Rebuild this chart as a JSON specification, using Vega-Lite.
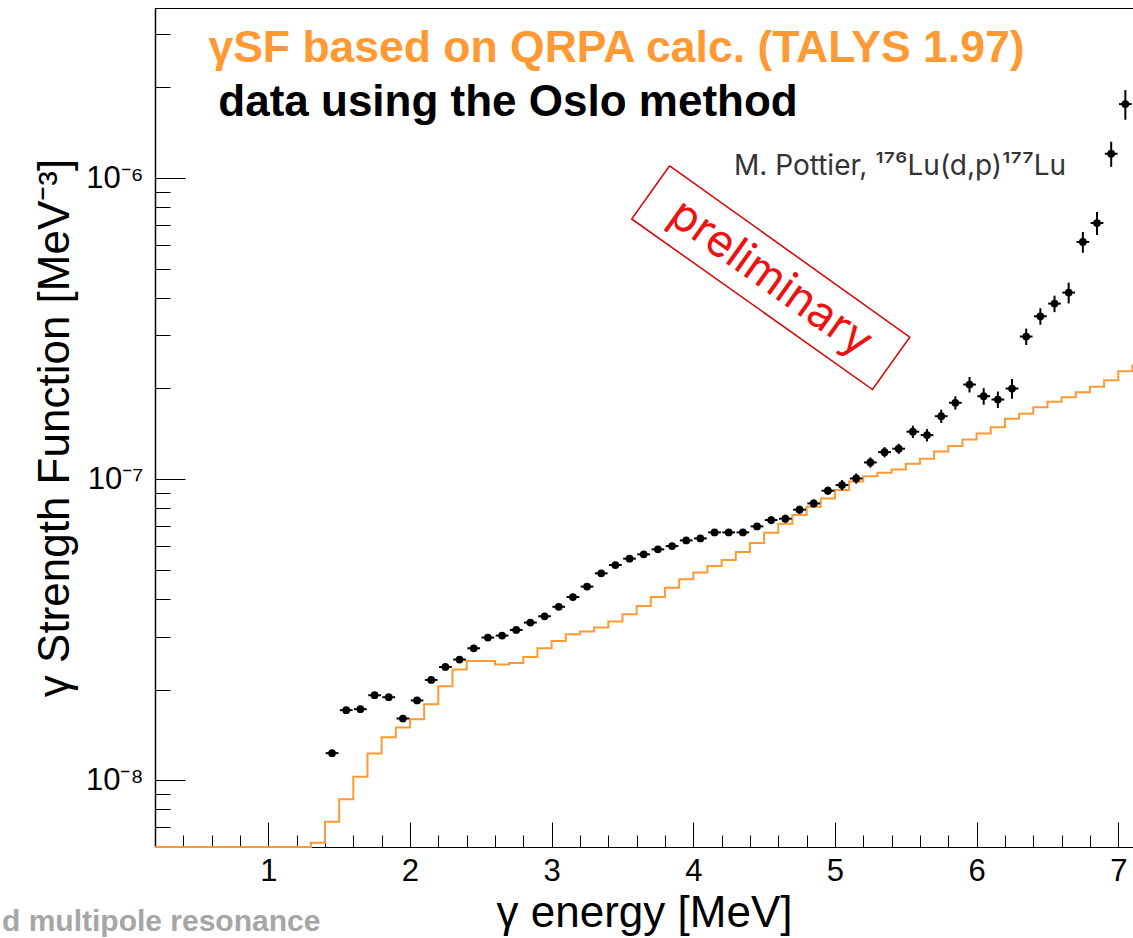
{
  "$schema": "https://vega.github.io/schema/vega-lite/v6.json",
  "width": 978,
  "height": 839,
  "autosize": {"type": "none"},
  "padding": {"left": 155, "top": 8, "right": 0, "bottom": 91},
  "background": "white",
  "config": {
    "view": {"stroke": "#000", "strokeWidth": 1},
    "font": "Liberation Sans"
  },
  "title": {
    "text": "d multipole resonance",
    "orient": "bottom",
    "anchor": "start",
    "frame": "group",
    "dx": -153,
    "offset": -28,
    "baseline": "top",
    "font": "Liberation Sans",
    "fontSize": 30,
    "fontWeight": "bold",
    "color": "#a6a6a6"
  },
  "encoding": {
    "x": {
      "field": "E",
      "type": "quantitative",
      "scale": {"domain": [0.2, 7.104], "nice": false, "zero": false},
      "axis": {
        "title": "γ energy [MeV]",
        "values": [0.2, 0.4, 0.6, 0.8, 1, 1.2, 1.4, 1.6, 1.8, 2, 2.2, 2.4, 2.6, 2.8, 3, 3.2, 3.4, 3.6, 3.8, 4, 4.2, 4.4, 4.6, 4.8, 5, 5.2, 5.4, 5.6, 5.8, 6, 6.2, 6.4, 6.6, 6.8, 7],
        "labelExpr": "abs(datum.value - round(datum.value)) < 0.01 ? format(datum.value, 'd') : ''",
        "tickSize": {"condition": {"test": "abs(datum.value - round(datum.value)) < 0.01", "value": -25}, "value": -12},
        "tickColor": "#000",
        "tickWidth": 1,
        "domainColor": "#000",
        "domainWidth": 1,
        "grid": false,
        "labelFont": "Liberation Sans",
        "labelFontSize": 31,
        "labelColor": "#000",
        "labelPadding": 34,
        "labelFlush": false,
        "labelOverlap": false,
        "titleFont": "Liberation Sans",
        "titleFontSize": 44,
        "titleFontWeight": "normal",
        "titleColor": "#000",
        "titlePadding": -8
      }
    },
    "y": {
      "field": "sf",
      "type": "quantitative",
      "scale": {"type": "log", "domain": [6e-9, 3.67e-6], "nice": false},
      "axis": {
        "title": "γ Strength Function [MeV⁻³]",
        "values": [6e-9, 7e-9, 8e-9, 9e-9, 1e-8, 2e-8, 3e-8, 4e-8, 5e-8, 6e-8, 7e-8, 8e-8, 9e-8, 1e-7, 2e-7, 3e-7, 4e-7, 5e-7, 6e-7, 7e-7, 8e-7, 9e-7, 1e-6, 2e-6, 3e-6],
        "labelExpr": "datum.value == 1e-6 ? '10⁻⁶' : datum.value == 1e-7 ? '10⁻⁷' : datum.value == 1e-8 ? '10⁻⁸' : ''",
        "tickSize": {"condition": {"test": "datum.value == 1e-6 || datum.value == 1e-7 || datum.value == 1e-8", "value": -30}, "value": -15},
        "tickColor": "#000",
        "tickWidth": 1,
        "domainColor": "#000",
        "domainWidth": 1.5,
        "grid": false,
        "labelFont": "Liberation Sans",
        "labelFontSize": 31,
        "labelColor": "#000",
        "labelPadding": 42,
        "labelFlush": false,
        "labelOverlap": false,
        "titleFont": "Liberation Sans",
        "titleFontSize": 44,
        "titleFontWeight": "normal",
        "titleColor": "#000",
        "titlePadding": 8
      }
    }
  },
  "layer": [
    {
      "data": {
        "values": [
          {"E": 0.2, "sf": 6e-9}, {"E": 0.3, "sf": 6e-9}, {"E": 0.4, "sf": 6e-9}, {"E": 0.5, "sf": 6e-9},
          {"E": 0.6, "sf": 6e-9}, {"E": 0.7, "sf": 6e-9}, {"E": 0.8, "sf": 6e-9}, {"E": 0.9, "sf": 6e-9},
          {"E": 1.0, "sf": 6e-9}, {"E": 1.1, "sf": 6e-9}, {"E": 1.2, "sf": 6e-9},
          {"E": 1.3, "sf": 6.20e-9}, {"E": 1.4, "sf": 7.28e-9}, {"E": 1.5, "sf": 8.64e-9},
          {"E": 1.6, "sf": 1.026e-8}, {"E": 1.7, "sf": 1.227e-8}, {"E": 1.8, "sf": 1.390e-8},
          {"E": 1.9, "sf": 1.497e-8}, {"E": 2.0, "sf": 1.595e-8}, {"E": 2.1, "sf": 1.788e-8},
          {"E": 2.2, "sf": 2.052e-8}, {"E": 2.3, "sf": 2.331e-8}, {"E": 2.4, "sf": 2.489e-8},
          {"E": 2.5, "sf": 2.489e-8}, {"E": 2.6, "sf": 2.422e-8}, {"E": 2.7, "sf": 2.452e-8},
          {"E": 2.8, "sf": 2.567e-8}, {"E": 2.9, "sf": 2.743e-8}, {"E": 3.0, "sf": 2.900e-8},
          {"E": 3.1, "sf": 3.052e-8}, {"E": 3.2, "sf": 3.116e-8}, {"E": 3.3, "sf": 3.213e-8},
          {"E": 3.4, "sf": 3.365e-8}, {"E": 3.5, "sf": 3.558e-8}, {"E": 3.6, "sf": 3.791e-8},
          {"E": 3.7, "sf": 4.059e-8}, {"E": 3.8, "sf": 4.361e-8}, {"E": 3.9, "sf": 4.648e-8},
          {"E": 4.0, "sf": 4.892e-8}, {"E": 4.1, "sf": 5.144e-8}, {"E": 4.2, "sf": 5.385e-8},
          {"E": 4.3, "sf": 5.724e-8}, {"E": 4.4, "sf": 6.133e-8}, {"E": 4.5, "sf": 6.639e-8},
          {"E": 4.6, "sf": 7.112e-8}, {"E": 4.7, "sf": 7.596e-8}, {"E": 4.8, "sf": 8.099e-8},
          {"E": 4.9, "sf": 8.630e-8}, {"E": 5.0, "sf": 9.194e-8}, {"E": 5.1, "sf": 9.826e-8},
          {"E": 5.2, "sf": 1.023e-7}, {"E": 5.3, "sf": 1.050e-7}, {"E": 5.4, "sf": 1.077e-7},
          {"E": 5.5, "sf": 1.125e-7}, {"E": 5.6, "sf": 1.169e-7}, {"E": 5.7, "sf": 1.235e-7},
          {"E": 5.8, "sf": 1.287e-7}, {"E": 5.9, "sf": 1.354e-7}, {"E": 6.0, "sf": 1.418e-7},
          {"E": 6.1, "sf": 1.487e-7}, {"E": 6.2, "sf": 1.586e-7}, {"E": 6.3, "sf": 1.648e-7},
          {"E": 6.4, "sf": 1.733e-7}, {"E": 6.5, "sf": 1.806e-7}, {"E": 6.6, "sf": 1.871e-7},
          {"E": 6.7, "sf": 1.944e-7}, {"E": 6.8, "sf": 2.026e-7}, {"E": 6.9, "sf": 2.131e-7},
          {"E": 7.0, "sf": 2.282e-7}, {"E": 7.1, "sf": 2.401e-7}
        ]
      },
      "mark": {"type": "line", "interpolate": "step-after", "color": "#ff9933", "strokeWidth": 2}
    },
    {
      "data": {"name": "oslo"},
      "mark": {"type": "errorbar", "color": "#000", "thickness": 2},
      "encoding": {"yError": {"field": "dy"}}
    },
    {
      "data": {"name": "oslo"},
      "mark": {"type": "errorbar", "color": "#000", "thickness": 2},
      "encoding": {"xError": {"field": "dx"}}
    },
    {
      "data": {"name": "oslo"},
      "mark": {"type": "circle", "size": 60, "color": "#000", "opacity": 1}
    },
    {
      "data": {
        "values": [
          {"k": 0, "E": 3.833, "sf": 1.098e-6},
          {"k": 1, "E": 5.528, "sf": 2.959e-7},
          {"k": 2, "E": 5.265, "sf": 1.984e-7},
          {"k": 3, "E": 3.565, "sf": 7.311e-7},
          {"k": 4, "E": 3.833, "sf": 1.098e-6}
        ]
      },
      "mark": {"type": "line", "color": "#dd0000", "strokeWidth": 1.5},
      "encoding": {"order": {"field": "k", "type": "quantitative"}}
    },
    {
      "data": {"values": [{"E": 4.547, "sf": 4.651e-7, "label": "preliminary"}]},
      "mark": {"type": "text", "angle": 35.5, "align": "center", "baseline": "middle", "font": "Inter", "fontSize": 45, "color": "#ee1111"},
      "encoding": {"text": {"field": "label"}}
    },
    {
      "data": {"values": [{"E": 0.577, "sf": 2.437e-6, "label": "γSF based on QRPA calc. (TALYS 1.97)"}]},
      "mark": {"type": "text", "align": "left", "baseline": "alphabetic", "font": "Liberation Sans", "fontWeight": "bold", "fontSize": 44.5, "color": "#ff9933"},
      "encoding": {"text": {"field": "label"}}
    },
    {
      "data": {"values": [{"E": 0.647, "sf": 1.603e-6, "label": "data using the Oslo method"}]},
      "mark": {"type": "text", "align": "left", "baseline": "alphabetic", "font": "Liberation Sans", "fontWeight": "bold", "fontSize": 44, "color": "#000"},
      "encoding": {"text": {"field": "label"}}
    },
    {
      "data": {"values": [{"E": 4.287, "sf": 1.0255e-6, "label": "M. Pottier, ¹⁷⁶Lu(d,p)¹⁷⁷Lu"}]},
      "mark": {"type": "text", "align": "left", "baseline": "alphabetic", "font": "Inter", "fontSize": 28, "color": "#333333"},
      "encoding": {"text": {"field": "label"}}
    }
  ],
  "datasets": {
    "oslo": [
      {"E": 1.45, "sf": 1.230e-8, "dy": 3.0e-10, "dx": 0.045},
      {"E": 1.55, "sf": 1.709e-8, "dy": 4.0e-10, "dx": 0.045},
      {"E": 1.65, "sf": 1.722e-8, "dy": 4.0e-10, "dx": 0.045},
      {"E": 1.75, "sf": 1.915e-8, "dy": 4.4e-10, "dx": 0.045},
      {"E": 1.85, "sf": 1.886e-8, "dy": 4.4e-10, "dx": 0.045},
      {"E": 1.95, "sf": 1.603e-8, "dy": 3.7e-10, "dx": 0.045},
      {"E": 2.05, "sf": 1.840e-8, "dy": 4.3e-10, "dx": 0.045},
      {"E": 2.15, "sf": 2.153e-8, "dy": 5.0e-10, "dx": 0.045},
      {"E": 2.25, "sf": 2.377e-8, "dy": 5.5e-10, "dx": 0.045},
      {"E": 2.35, "sf": 2.516e-8, "dy": 5.8e-10, "dx": 0.045},
      {"E": 2.45, "sf": 2.743e-8, "dy": 6.4e-10, "dx": 0.045},
      {"E": 2.55, "sf": 2.977e-8, "dy": 6.9e-10, "dx": 0.045},
      {"E": 2.65, "sf": 3.022e-8, "dy": 7.0e-10, "dx": 0.045},
      {"E": 2.75, "sf": 3.155e-8, "dy": 7.3e-10, "dx": 0.045},
      {"E": 2.85, "sf": 3.339e-8, "dy": 7.7e-10, "dx": 0.045},
      {"E": 2.95, "sf": 3.503e-8, "dy": 8.1e-10, "dx": 0.045},
      {"E": 3.05, "sf": 3.767e-8, "dy": 8.7e-10, "dx": 0.045},
      {"E": 3.15, "sf": 4.059e-8, "dy": 9.4e-10, "dx": 0.045},
      {"E": 3.25, "sf": 4.395e-8, "dy": 1.02e-9, "dx": 0.045},
      {"E": 3.35, "sf": 4.865e-8, "dy": 1.13e-9, "dx": 0.045},
      {"E": 3.45, "sf": 5.183e-8, "dy": 1.20e-9, "dx": 0.045},
      {"E": 3.55, "sf": 5.443e-8, "dy": 1.26e-9, "dx": 0.045},
      {"E": 3.65, "sf": 5.625e-8, "dy": 1.30e-9, "dx": 0.045},
      {"E": 3.75, "sf": 5.843e-8, "dy": 1.36e-9, "dx": 0.045},
      {"E": 3.85, "sf": 5.993e-8, "dy": 1.39e-9, "dx": 0.045},
      {"E": 3.95, "sf": 6.259e-8, "dy": 1.45e-9, "dx": 0.045},
      {"E": 4.05, "sf": 6.355e-8, "dy": 1.47e-9, "dx": 0.045},
      {"E": 4.15, "sf": 6.654e-8, "dy": 1.54e-9, "dx": 0.045},
      {"E": 4.25, "sf": 6.654e-8, "dy": 1.54e-9, "dx": 0.045},
      {"E": 4.35, "sf": 6.654e-8, "dy": 1.54e-9, "dx": 0.045},
      {"E": 4.45, "sf": 6.966e-8, "dy": 1.62e-9, "dx": 0.045},
      {"E": 4.55, "sf": 7.311e-8, "dy": 2.27e-9, "dx": 0.045},
      {"E": 4.65, "sf": 7.389e-8, "dy": 2.29e-9, "dx": 0.045},
      {"E": 4.75, "sf": 7.915e-8, "dy": 2.45e-9, "dx": 0.045},
      {"E": 4.85, "sf": 8.305e-8, "dy": 2.57e-9, "dx": 0.045},
      {"E": 4.95, "sf": 9.152e-8, "dy": 2.84e-9, "dx": 0.045},
      {"E": 5.05, "sf": 9.552e-8, "dy": 3.72e-9, "dx": 0.045},
      {"E": 5.15, "sf": 1.005e-7, "dy": 3.91e-9, "dx": 0.045},
      {"E": 5.25, "sf": 1.136e-7, "dy": 4.42e-9, "dx": 0.045},
      {"E": 5.35, "sf": 1.229e-7, "dy": 4.78e-9, "dx": 0.045},
      {"E": 5.45, "sf": 1.262e-7, "dy": 4.91e-9, "dx": 0.045},
      {"E": 5.55, "sf": 1.437e-7, "dy": 6.74e-9, "dx": 0.045},
      {"E": 5.65, "sf": 1.400e-7, "dy": 6.57e-9, "dx": 0.045},
      {"E": 5.75, "sf": 1.618e-7, "dy": 8.24e-9, "dx": 0.045},
      {"E": 5.85, "sf": 1.793e-7, "dy": 9.13e-9, "dx": 0.045},
      {"E": 5.95, "sf": 2.061e-7, "dy": 1.216e-8, "dx": 0.045},
      {"E": 6.05, "sf": 1.885e-7, "dy": 1.19e-8, "dx": 0.045},
      {"E": 6.15, "sf": 1.838e-7, "dy": 1.16e-8, "dx": 0.045},
      {"E": 6.25, "sf": 1.999e-7, "dy": 1.51e-8, "dx": 0.045},
      {"E": 6.35, "sf": 2.975e-7, "dy": 1.87e-8, "dx": 0.045},
      {"E": 6.45, "sf": 3.474e-7, "dy": 2.19e-8, "dx": 0.045},
      {"E": 6.55, "sf": 3.827e-7, "dy": 2.41e-8, "dx": 0.045},
      {"E": 6.65, "sf": 4.163e-7, "dy": 3.31e-8, "dx": 0.045},
      {"E": 6.75, "sf": 6.134e-7, "dy": 4.87e-8, "dx": 0.045},
      {"E": 6.85, "sf": 7.089e-7, "dy": 6.21e-8, "dx": 0.045},
      {"E": 6.95, "sf": 1.204e-6, "dy": 1.155e-7, "dx": 0.045},
      {"E": 7.05, "sf": 1.760e-6, "dy": 1.99e-7, "dx": 0.045}
    ]
  }
}
